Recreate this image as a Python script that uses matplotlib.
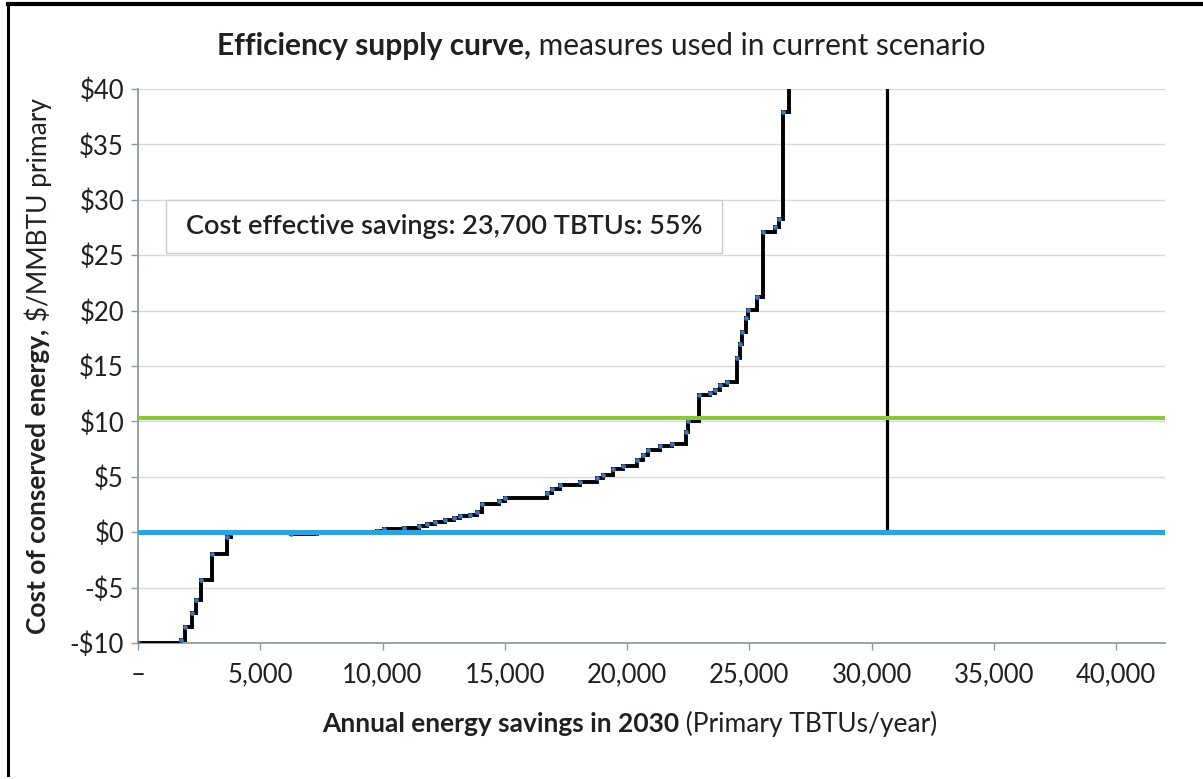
import matplotlib
matplotlib.use("Agg")
import matplotlib.pyplot as plt
from matplotlib.patches import Rectangle
from matplotlib.ticker import FuncFormatter

# --- datos ---
# inicio de cada escalón (TBTU acumulados) y costo del nivel ($/MMBTU)
ahorro_inicio = [0, 1744, 1920, 2222, 2357, 2561, 3011, 3623, 3800, 6240, 7340,
                 9780, 10050, 10867, 11480, 11800, 12160, 12570, 12910, 13180,
                 13590, 13865, 14070, 14750, 15020, 16724, 16950, 17267, 18084,
                 18766, 19036, 19445, 19841, 20401, 20650, 20875, 21353, 21831,
                 22415, 22509, 22958, 23395, 23600, 23800, 24077, 24486, 24620,
                 24690, 24866, 24950, 25303, 25548, 26050, 26200, 26389, 26634,
                 26700]
costo_nivel = [-10.0, -9.7, -8.55, -7.3, -6.1, -4.3, -2.0, -0.4, -0.05, -0.15, -0.05,
               0.1, 0.25, 0.42, 0.55, 0.72, 0.93, 1.14, 1.29, 1.44,
               1.53, 1.83, 2.53, 2.8, 3.13, 3.5, 3.9, 4.24, 4.54,
               4.85, 5.14, 5.66, 5.96, 6.5, 7.0, 7.4, 7.76, 8.0,
               9.0, 10.05, 12.36, 12.6, 12.82, 13.27, 13.57, 15.68, 17.03,
               18.08, 19.29, 20.04, 21.24, 27.1, 27.5, 28.3, 37.93, 60.0,
               60.0]

costo_umbral = 10.3        # línea verde
costo_cero = 0.0           # línea azul
ahorro_total = 30650       # línea vertical negra
x_ticks = [0, 5000, 10000, 15000, 20000, 25000, 30000, 35000, 40000]
y_ticks = [-10, -5, 0, 5, 10, 15, 20, 25, 30, 35, 40]
caja_x = (1130, 23885)
caja_y = (25.2, 30.0)
texto_caja = "Cost effective savings: 23,700 TBTUs: 55%"

FUENTE = "Lato"
COLOR_TEXTO = "#231f20"
W, H = 1203, 779

plt.rcParams['font.family'] = [FUENTE, 'DejaVu Sans']

fig = plt.figure(figsize=(W / 100, H / 100), dpi=100)
ax = fig.add_axes([138 / W, 1 - 643 / H, (1165 - 138) / W, (643 - 89) / H])

# --- curva de oferta ---
ax.plot(ahorro_inicio, costo_nivel, drawstyle='steps-post', color='black',
        lw=2.8, zorder=3, solid_joinstyle='miter')
ax.plot(ahorro_inicio[:-2], costo_nivel[:-2], ls='none', marker='o', ms=2.4,
        mfc='#3f78c0', mec='#3f78c0', zorder=4)

ax.axhline(costo_umbral, color='#8cc63f', lw=3.0, zorder=5)
ax.axhline(costo_cero, color='#2ea3e0', lw=3.6, zorder=5)
ax.plot([ahorro_total, ahorro_total], [costo_cero, 40], color='black', lw=2.3, zorder=4)

# caja de anotación
ax.add_patch(Rectangle((caja_x[0], caja_y[0]), caja_x[1] - caja_x[0], caja_y[1] - caja_y[0],
                       facecolor='white', edgecolor='#c9c9c9', lw=1.0, zorder=2))
ax.text((caja_x[0] + caja_x[1]) / 2, (caja_y[0] + caja_y[1]) / 2, texto_caja,
        ha='center', va='center', fontsize=19.5, fontweight='semibold',
        color=COLOR_TEXTO, zorder=6)

# --- ejes ---
ax.set_xlim(0, 42000)
ax.set_ylim(-10, 40)
ax.set_xticks(x_ticks)
ax.set_yticks(y_ticks)
ax.xaxis.set_major_formatter(FuncFormatter(lambda v, p: '–' if v == 0 else f'{v:,.0f}'))
ax.yaxis.set_major_formatter(FuncFormatter(lambda v, p: f'-${abs(v):.0f}' if v < 0 else f'${v:.0f}'))
ax.grid(axis='y', color='#d9d9d9', lw=1.0, zorder=0)
ax.set_axisbelow(True)
for lado in ['top', 'right']:
    ax.spines[lado].set_visible(False)
for lado in ['left', 'bottom']:
    ax.spines[lado].set_color('#8d9aa6')
    ax.spines[lado].set_linewidth(1.3)
ax.tick_params(axis='both', direction='out', length=5, width=1, color='#8d9aa6',
               labelsize=18.5, labelcolor=COLOR_TEXTO)
ax.tick_params(axis='x', pad=9)
ax.tick_params(axis='y', pad=5)


def texto_mixto(cx, cy, partes, size, rot=0):
    """Escribe texto con partes en negrita y normal, centrado en (cx, cy) px."""
    r = fig.canvas.get_renderer()
    objs = []
    for s, peso in partes:
        t = fig.text(0, 0, s, fontsize=size, fontweight=peso, color=COLOR_TEXTO,
                     rotation=rot, ha='left' if rot == 0 else 'center',
                     va='center' if rot == 0 else 'bottom')
        objs.append(t)
    tam = [(o.get_window_extent(r).width if rot == 0 else o.get_window_extent(r).height)
           for o in objs]
    pos = (cx if rot == 0 else H - cy) - sum(tam) / 2
    for o, d in zip(objs, tam):
        if rot == 0:
            o.set_position((pos / W, 1 - cy / H))
        else:
            o.set_position((cx / W, pos / H))
        pos += d


texto_mixto(601, 46, [("Efficiency supply curve,", 'bold'),
                      (" measures used in current scenario", 'normal')], 21.5)
texto_mixto(630, 724, [("Annual energy savings in 2030", 'bold'),
                       (" (Primary TBTUs/year)", 'normal')], 19)
texto_mixto(38, 366, [("Cost of conserved energy,", 'bold'),
                      (" $/MMBTU primary", 'normal')], 19, rot=90)

# marco exterior
fig.add_artist(plt.Line2D([8 / W, 8 / W], [0.005, 1 - 5 / H], color='black', lw=2.2))
fig.add_artist(plt.Line2D([8 / W, 1], [1 - 4 / H, 1 - 4 / H], color='black', lw=3.0))

fig.savefig("out.png", dpi=100)
